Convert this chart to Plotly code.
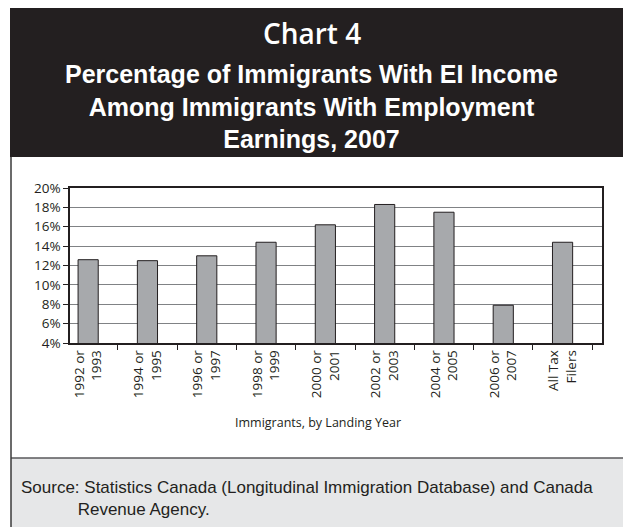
import plotly.graph_objects as go

# Data
categories = ["1992 or<br>1993", "1994 or<br>1995", "1996 or<br>1997", "1998 or<br>1999",
              "2000 or<br>2001", "2002 or<br>2003", "2004 or<br>2005", "2006 or<br>2007",
              "All Tax<br>Filers"]
pct_with_ei = [12.6, 12.5, 13.0, 14.4, 16.2, 18.3, 17.5, 7.9, 14.4]
y_ticks = [4, 6, 8, 10, 12, 14, 16, 18, 20]

W, H = 623, 527
PL, PR, PT, PB = 70, 602, 188, 343  # plot area in pixels


def px(x):
    return (x - PL) / (PR - PL)


def py(y):
    return (PB - y) / (PB - PT)


DARK = "#231f20"
TICK_FONT = "Open Sans"

fig = go.Figure()
fig.add_trace(go.Bar(
    x=categories, y=pct_with_ei,
    marker=dict(color="#a7a9ac", line=dict(color=DARK, width=1)),
    hoverinfo="skip",
))

shapes = [
    # title band
    dict(type="rect", xref="paper", yref="paper", x0=px(10), x1=px(624), y0=py(157), y1=py(8),
         fillcolor=DARK, line=dict(width=0), layer="below"),
    # source band
    dict(type="rect", xref="paper", yref="paper", x0=px(11), x1=px(624), y0=py(528), y1=py(458),
         fillcolor="#e6e7e8", line=dict(width=0), layer="below"),
    dict(type="line", xref="paper", yref="paper", x0=px(11), x1=px(623), y0=py(458), y1=py(458),
         line=dict(color="#58595b", width=1.5)),
    # left frame line
    dict(type="line", xref="paper", yref="paper", x0=px(11), x1=px(11), y0=py(157), y1=py(527),
         line=dict(color="#3a3a3a", width=1.5)),
]

annotations = [
    dict(text="Chart 4", x=px(312), y=py(33), xref="paper", yref="paper", showarrow=False,
         font=dict(family="Open Sans", size=28, color="white", weight=600),
         xanchor="center", yanchor="middle"),
    dict(text="<b>Percentage of Immigrants With EI Income<br>Among Immigrants With Employment<br>Earnings, 2007</b>",
         x=px(311), y=py(106), xref="paper", yref="paper", showarrow=False,
         font=dict(family="Liberation Sans", size=25, color="white"), xanchor="center", yanchor="middle"),
    dict(text="Immigrants, by Landing Year", x=px(318), y=py(422), xref="paper", yref="paper",
         showarrow=False, font=dict(family=TICK_FONT, size=12.5, color=DARK),
         xanchor="center", yanchor="middle"),
    dict(text="Source: Statistics Canada (Longitudinal Immigration Database) and Canada<br>"
              "            Revenue Agency.",
         x=px(19), y=py(498), xref="paper", yref="paper", showarrow=False, align="left",
         font=dict(family="Liberation Sans", size=17, color=DARK), xanchor="left", yanchor="middle"),
]

fig.update_layout(
    width=W, height=H,
    margin=dict(l=PL, r=W - PR, t=PT, b=H - PB, pad=0),
    paper_bgcolor="white", plot_bgcolor="white",
    bargap=0.66, showlegend=False,
    shapes=shapes, annotations=annotations,
    font=dict(family=TICK_FONT, size=13, color=DARK),
)
# category axis sits slightly shifted within the frame
fig.update_xaxes(
    type="category", range=[-0.306, 8.665], tickangle=-90, tickson="boundaries",
    ticks="outside", ticklen=5, tickcolor=DARK,
    showline=True, linecolor=DARK, linewidth=1.5, mirror=True,
    showgrid=False, tickfont=dict(family=TICK_FONT, size=13.5, color=DARK),
)
fig.update_yaxes(
    range=[4, 20], tickvals=y_ticks, ticktext=[f"{v}%" for v in y_ticks],
    ticks="outside", ticklen=5, tickcolor=DARK,
    showline=True, linecolor=DARK, linewidth=1.5, mirror=True,
    showgrid=True, gridcolor="#808285", gridwidth=1, zeroline=False,
    tickfont=dict(family=TICK_FONT, size=13.5, color=DARK),
)

fig.write_html("out.html", config={"displayModeBar": False})
